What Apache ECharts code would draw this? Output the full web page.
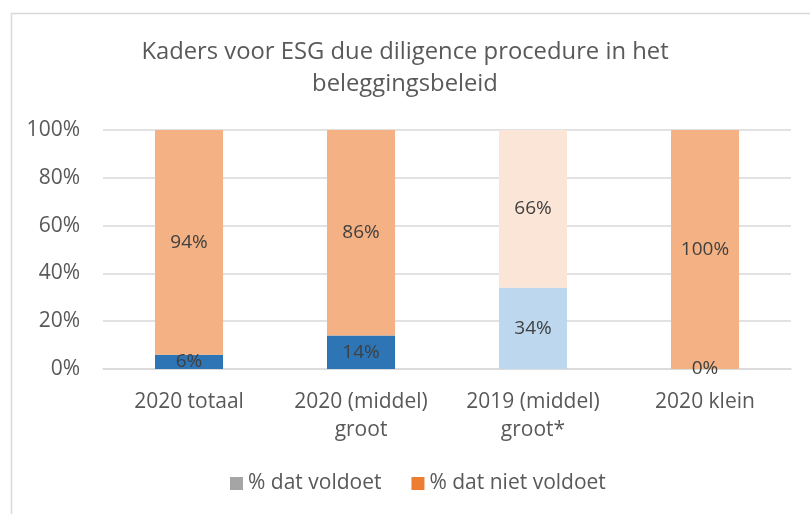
<!DOCTYPE html>
<html><head><meta charset="utf-8">
<script src="https://cdn.jsdelivr.net/npm/echarts@6/dist/echarts.min.js"></script>
<style>html,body{margin:0;padding:0;background:#fff}#c{width:810px;height:514px}</style>
</head><body><div id="c"></div>
<script>
const titleText = 'Kaders voor ESG due diligence procedure in het\nbeleggingsbeleid';
const categories = ['2020 totaal', '2020 (middel) groot', '2019 (middel) groot*', '2020 klein'];
const voldoet = [6, 14, 34, 0];
const nietVoldoet = [94, 86, 66, 100];
const yTicks = [0, 20, 40, 60, 80, 100];
const seriesNames = ['% dat voldoet', '% dat niet voldoet'];

const legendColors = ['#A5A5A5', '#ED7D31'];
const voldoetColors = ['#2E75B6', '#2E75B6', '#BDD7EE', '#2E75B6'];
const nietColors = ['#F4B183', '#F4B183', '#FBE5D6', '#F4B183'];
const FONT = 'Open Sans';

const chart = echarts.init(document.getElementById('c'), null, {renderer: 'canvas'});
const labelCfg = {show: true, position: 'inside', formatter: '{c}%', color: '#404040', fontSize: 19, fontFamily: FONT};
chart.setOption({
  animation: false,
  graphic: [{type: 'rect', left: 9, top: 11, shape: {width: 900, height: 600}, style: {fill: 'none', stroke: '#d9d9d9', lineWidth: 1.5}}],
  title: {text: titleText, left: 'center', top: 31, padding: [5, 0, 5, 8], textStyle: {fontFamily: FONT, fontSize: 23.8, fontWeight: 'normal', color: '#595959', lineHeight: 32}},
  legend: {top: 468, left: 225, itemWidth: 13, itemHeight: 13, itemGap: 30, icon: 'rect',
    textStyle: {fontFamily: FONT, fontSize: 21, color: '#595959'}, data: seriesNames},
  grid: {left: 103, right: 19, top: 130, bottom: 145, containLabel: false},
  xAxis: {type: 'category', data: categories, axisTick: {show: false},
    axisLine: {lineStyle: {color: '#d9d9d9', width: 1.5}},
    axisLabel: {interval: 0, fontFamily: FONT, fontSize: 21, color: '#595959', margin: 19, lineHeight: 28,
      formatter: v => v.replace(') ', ')\n')}},
  yAxis: {type: 'value', min: 0, max: 100, interval: 20,
    axisLabel: {formatter: v => yTicks.includes(v) ? v + '%' : '', fontFamily: FONT, fontSize: 21, color: '#595959', margin: 23},
    splitLine: {lineStyle: {color: '#d9d9d9', width: 1.5}}, axisLine: {show: false}},
  series: [
    {name: seriesNames[0], type: 'bar', stack: 's', barWidth: 68, itemStyle: {color: legendColors[0]},
      label: labelCfg,
      data: voldoet.map((v, i) => ({value: v, itemStyle: {color: voldoetColors[i]}}))},
    {name: seriesNames[1], type: 'bar', stack: 's', barWidth: 68, itemStyle: {color: legendColors[1]},
      label: labelCfg,
      data: nietVoldoet.map((v, i) => ({value: v, itemStyle: {color: nietColors[i]}}))}
  ]
});
</script></body></html>
